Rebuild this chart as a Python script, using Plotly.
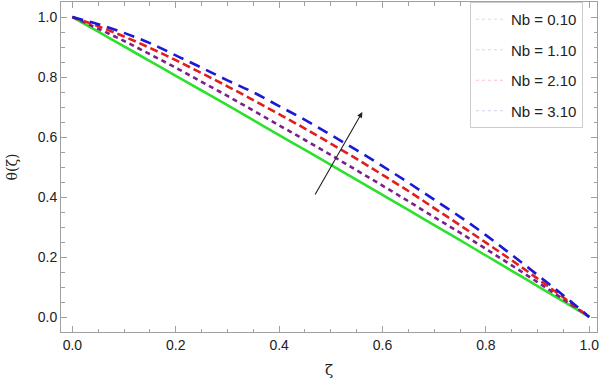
import plotly.graph_objects as go

zeta = [0.0, 0.05, 0.1, 0.15, 0.2, 0.25, 0.3, 0.35, 0.4, 0.45, 0.5,
        0.55, 0.6, 0.65, 0.7, 0.75, 0.8, 0.85, 0.9, 0.95, 1.0]

theta_nb010 = [1.0, 0.951, 0.902, 0.853, 0.804, 0.755, 0.706, 0.656, 0.606, 0.557, 0.507,
               0.457, 0.407, 0.357, 0.306, 0.256, 0.205, 0.154, 0.103, 0.052, 0.0]
theta_nb110 = [1.0, 0.961, 0.920, 0.876, 0.831, 0.784, 0.737, 0.688, 0.639, 0.590, 0.540,
               0.489, 0.438, 0.386, 0.333, 0.281, 0.227, 0.172, 0.116, 0.059, 0.0]
theta_nb210 = [1.0, 0.969, 0.935, 0.897, 0.856, 0.813, 0.769, 0.723, 0.676, 0.628, 0.578,
               0.527, 0.474, 0.420, 0.363, 0.306, 0.248, 0.189, 0.128, 0.065, 0.0]
theta_nb310 = [1.0, 0.976, 0.947, 0.913, 0.872, 0.831, 0.789, 0.749, 0.703, 0.657, 0.607,
               0.556, 0.503, 0.448, 0.391, 0.334, 0.273, 0.207, 0.140, 0.072, 0.0]

labels = ["Nb = 0.10", "Nb = 1.10", "Nb = 2.10", "Nb = 3.10"]
series = [theta_nb010, theta_nb110, theta_nb210, theta_nb310]
colors = ["#2ee02e", "#7b1f8f", "#e21d1d", "#1a1ad6"]
dashes = ["solid", "5px,4px", "8px,4px", "11px,7px"]
legend_colors = ["rgba(120,220,120,0.45)", "rgba(170,170,190,0.45)",
                 "rgba(240,140,150,0.5)", "rgba(170,160,220,0.5)"]

fig = go.Figure()
for ys, c, d in zip(series, colors, dashes):
    fig.add_trace(go.Scatter(x=zeta, y=ys, mode="lines", line_shape="spline",
                             line=dict(color=c, width=2.6, dash=d), showlegend=False))
for i, (lab, lc) in enumerate(zip(labels, legend_colors)):
    fig.add_trace(go.Scatter(x=[None], y=[None], mode="lines", name=lab,
                             legendgroup=f"g{i}",
                             line=dict(color=lc, width=1, dash="dot")))

fig.add_annotation(x=0.561, y=0.683, ax=0.468, ay=0.403, xref="x", yref="y",
                   axref="x", ayref="y", showarrow=True, arrowhead=2, arrowsize=1,
                   arrowwidth=1.1, arrowcolor="#222", text="")

axis_common = dict(showline=True, linecolor="#a0a0a0", linewidth=1, mirror="allticks",
                   ticks="inside", ticklen=6, tickcolor="#a0a0a0", showgrid=False,
                   zeroline=False, tickfont=dict(family="Liberation Sans, Arial", size=14, color="#222"),
                   minor=dict(ticks="inside", ticklen=3.5, tickcolor="#a0a0a0", dtick=0.05))

fig.update_xaxes(range=[-0.022, 1.015], tickvals=[0, 0.2, 0.4, 0.6, 0.8, 1.0],
                 ticktext=["0.0", "0.2", "0.4", "0.6", "0.8", "1.0"],
                 title=dict(text="ζ", font=dict(family="DejaVu Serif", size=15, color="#222"), standoff=12),
                 **axis_common)
fig.update_yaxes(range=[-0.05, 1.05], tickvals=[0, 0.2, 0.4, 0.6, 0.8, 1.0],
                 ticktext=["0.0", "0.2", "0.4", "0.6", "0.8", "1.0"],
                 title=dict(text="θ(ζ)", font=dict(family="DejaVu Serif", size=14, color="#222"), standoff=16),
                 **axis_common)

fig.update_layout(
    width=600, height=386,
    margin=dict(l=61, r=3, t=2, b=54, autoexpand=False),
    plot_bgcolor="white", paper_bgcolor="white",
    legend=dict(x=0.763, y=1.0, xanchor="left", yanchor="top",
                bgcolor="white", bordercolor="#cccccc", borderwidth=1,
                font=dict(family="Liberation Sans, Arial", size=15, color="#222"),
                tracegroupgap=8, itemwidth=30),
)

fig.write_html("out.html", config={"displayModeBar": False})
with open("out.html", "r", encoding="utf-8") as f:
    html = f.read()
html = html.replace("<body>", '<body style="margin:0;padding:0;overflow:hidden">', 1)
with open("out.html", "w", encoding="utf-8") as f:
    f.write(html)
